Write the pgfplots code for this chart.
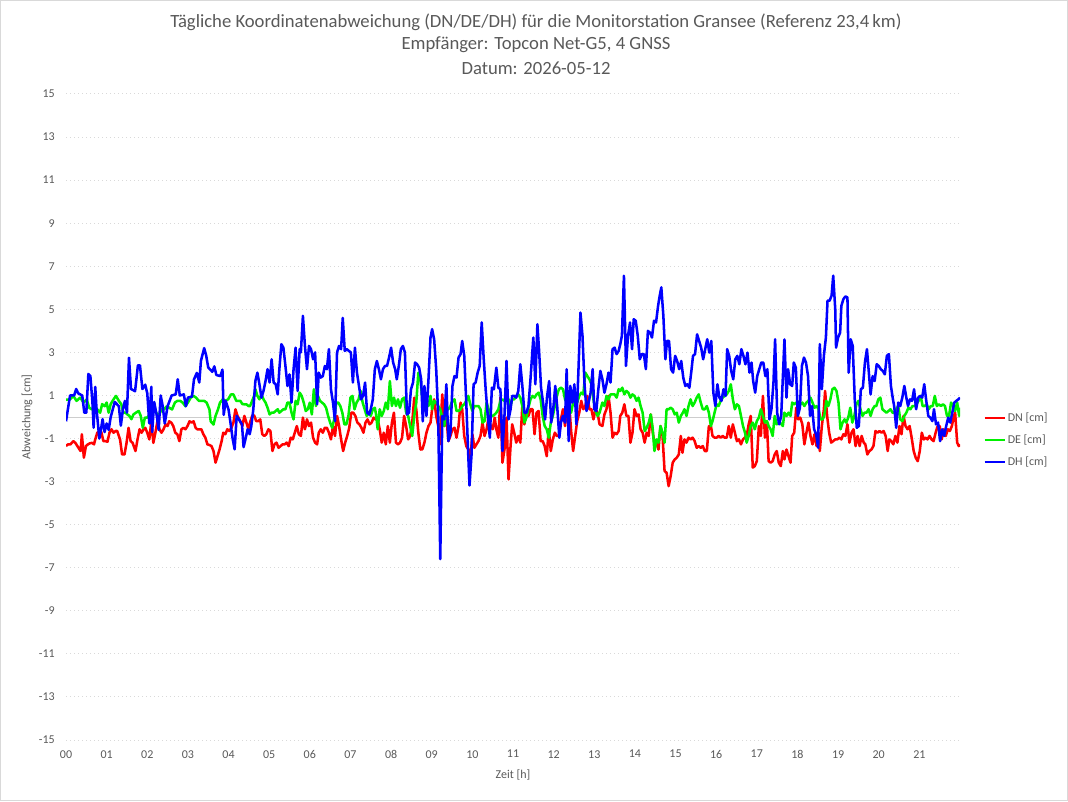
\documentclass[border=0pt]{standalone}
\usepackage{pgfplots}
\pgfplotsset{compat=1.18}
\usepackage{fontspec}
\setmainfont{Carlito}
\definecolor{txt}{RGB}{89,89,89}
\definecolor{gridc}{RGB}{217,217,217}
\definecolor{zeroc}{RGB}{205,205,205}
\definecolor{dnc}{RGB}{255,0,0}
\definecolor{dec}{RGB}{0,240,0}
\definecolor{dhc}{RGB}{0,0,255}
\begin{document}
\begin{tikzpicture}
\useasboundingbox (0,0) rectangle (801pt,600.75pt);
\draw[gridc, line width=0.75pt] (0.375pt,0.375pt) rectangle (800.625pt,600.375pt);
\node[font=\fontsize{14}{17}\selectfont, text=txt] at (402pt,584.25pt) {Tägliche Koordinatenabweichung (DN/DE/DH) für die Monitorstation Gransee (Referenz 23,4\,km)};
\node[font=\fontsize{14}{17}\selectfont, text=txt] at (402pt,567pt) {Empfänger: Topcon Net-G5, 4 GNSS};
\node[font=\fontsize{14}{17}\selectfont, text=txt] at (402pt,549.75pt) {Datum: 2026-05-12};
\begin{axis}[
  at={(49.5pt,45.75pt)}, anchor=south west,
  width=670.5pt, height=484.5pt, scale only axis,
  xmin=0, xmax=22, ymin=-15, ymax=15,
  xtick={0,1,...,21},
  xticklabels={00,01,02,03,04,05,06,07,08,09,10,11,12,13,14,15,16,17,18,19,20,21},
  ytick={-15,-13,...,15},
  ymajorgrids,
  grid style={gridc, line width=0.75pt, dash pattern=on 0.75pt off 2.25pt},
  extra y ticks={0}, extra y tick labels={},
  extra y tick style={grid=major, major grid style={zeroc, solid, line width=0.75pt}},
  axis line style={draw=none}, major tick length=0pt,
  tick label style={font=\fontsize{9}{11}\selectfont, text=txt},
  /pgf/number format/assume math mode=true,
  yticklabel style={inner sep=0pt, xshift=-8.25pt},
  xticklabel style={inner sep=0pt, yshift=-7.5pt},
  xlabel={Zeit [h]}, ylabel={Abweichung [cm]},
  label style={font=\fontsize{9}{11}\selectfont, text=txt},
  xlabel style={at={(axis description cs:0.5,-0.0542)}, anchor=center},
  ylabel style={at={(axis description cs:-0.0436,0.5)}, anchor=center},
  legend style={at={(axis description cs:1.026,0.464)}, anchor=west, draw=none, fill=none,
    font=\fontsize{9}{11}\selectfont, text=txt, row sep=5.5pt, inner sep=0pt, nodes={inner sep=1.5pt, xshift=1.5pt}},
  legend cell align=left,
  legend image code/.code={\draw[#1, line width=1.7pt] (0pt,0pt) -- (15pt,0pt);},
  every axis plot/.append style={line width=1.9pt, line join=round, no marks},
]
\addplot[dnc] coordinates {
(0,-1.35)(0.05,-1.27)(0.11,-1.27)(0.18,-1.12)(0.23,-1.2)(0.28,-1.35)(0.33,-1.5)(0.36,-1.58)(0.39,-0.8)(0.44,-1.89)(0.49,-1.35)(0.54,-1.27)(0.59,-1.22)(0.64,-1.2)(0.69,-1.27)(0.72,-1.04)(0.77,-0.73)(0.82,-0.65)(0.87,-0.7)(0.92,-1.12)(0.97,-1.12)(1.02,-1.15)(1.07,-0.73)(1.12,-0.57)(1.17,-0.73)(1.22,-0.65)(1.26,-0.65)(1.33,-1.04)(1.38,-1.74)(1.44,-1.74)(1.49,-1.2)(1.54,-0.5)(1.59,-1.12)(1.64,-1.2)(1.71,-1.58)(1.76,-1.04)(1.81,-0.57)(1.86,-0.73)(1.91,-0.57)(1.95,-0.5)(2.0,-0.73)(2.05,-1.04)(2.1,-0.2)(2.15,-1.2)(2.2,-0.73)(2.25,-0.2)(2.3,-0.57)(2.35,-0.73)(2.4,-0.57)(2.45,-0.34)(2.5,-0.42)(2.54,-0.2)(2.59,-0.26)(2.64,-0.42)(2.69,-0.73)(2.74,-0.8)(2.79,-1.12)(2.84,-0.57)(2.89,-0.5)(2.94,-0.57)(2.99,-0.42)(3.04,-0.2)(3.09,-0.26)(3.14,-0.2)(3.19,-0.5)(3.23,-0.57)(3.28,-0.57)(3.33,-0.57)(3.38,-0.8)(3.43,-0.96)(3.48,-1.27)(3.53,-1.3)(3.58,-1.35)(3.63,-1.58)(3.68,-2.12)(3.73,-1.81)(3.78,-1.5)(3.83,-1.12)(3.87,-0.73)(3.92,-0.8)(3.97,-0.57)(4.02,-0.65)(4.07,-0.5)(4.12,-0.26)(4.17,0.36)(4.22,0.05)(4.27,-0.12)
(4.34,-0.42)(4.39,0.05)(4.44,-0.26)(4.49,-0.57)(4.53,-0.26)(4.58,0.05)(4.63,0.08)(4.68,-0.19)(4.73,-0.19)(4.78,-0.11)(4.83,-0.8)(4.88,-0.88)(4.93,-0.8)(4.98,-0.57)(5.03,-0.65)(5.08,-1.58)(5.13,-1.27)(5.18,-1.19)(5.23,-1.43)(5.28,-1.35)(5.33,-1.27)(5.38,-1.27)(5.43,-1.19)(5.48,-1.35)(5.53,-0.96)(5.58,-1.04)(5.63,-0.73)(5.68,-0.42)(5.73,-0.8)(5.78,-0.88)(5.83,-0.03)(5.88,-0.57)(5.93,-0.11)(5.98,-0.42)(6.03,-0.26)(6.08,-0.96)(6.13,-1.19)(6.18,-1.27)(6.22,-0.73)(6.27,-0.57)(6.32,-0.73)(6.37,-0.5)(6.42,-0.5)(6.47,-0.73)(6.52,-1.04)(6.57,-0.42)(6.62,-0.88)(6.67,0.05)(6.72,-0.42)(6.77,-1.04)(6.82,-1.58)(6.87,-1.19)(6.92,-0.88)(6.97,-0.5)(7.02,0.2)(7.07,0.2)(7.12,0.05)(7.17,-0.26)(7.22,-0.34)(7.27,-0.5)(7.32,-0.73)(7.37,-0.26)(7.42,-0.11)(7.47,-0.34)(7.52,-0.26)(7.57,-0.03)(7.62,-0.11)(7.67,-0.11)(7.72,-0.57)(7.77,-1.19)(7.82,-0.73)(7.87,-1.27)(7.92,-0.42)(7.97,-1.19)(8.02,-0.26)(8.07,0.2)(8.12,-1.19)(8.17,-1.27)(8.22,-1.19)(8.27,-0.96)(8.32,0.05)(8.37,-0.42)(8.42,-1.04)(8.47,-0.88)(8.52,-0.26)(8.57,0.9)(8.62,0.36)(8.67,-0.73)(8.72,-1.51)
(8.77,-1.5)(8.82,-1.19)(8.87,-0.73)(8.92,-0.42)(8.97,-0.26)(9.01,0.36)(9.06,0.82)(9.11,0.05)(9.16,-0.42)(9.2,-1.27)(9.23,0.05)(9.26,1.05)(9.31,-0.42)(9.36,0.05)(9.41,-1.12)(9.46,-0.88)(9.51,-0.57)(9.56,-0.5)(9.61,-0.96)(9.66,-0.42)(9.71,0.67)(9.75,0.36)(9.8,-0.88)(9.85,-1.35)(9.9,-1.51)(9.95,-1.97)(10.0,-0.8)(10.05,-1.43)(10.1,-1.27)(10.15,-1.12)(10.2,-0.88)(10.25,-0.26)(10.3,-0.88)(10.35,-0.57)(10.4,-0.03)(10.45,-0.42)(10.5,-0.57)(10.55,-0.03)(10.59,-0.57)(10.64,-0.96)(10.69,0.9)(10.74,-2.12)(10.79,-1.51)(10.84,-0.03)(10.89,-2.9)(10.94,-1.35)(10.98,-0.34)(11.03,-0.73)(11.08,-1.19)(11.13,-0.88)(11.18,-1.19)(11.23,0.51)(11.28,-0.34)(11.33,0.2)(11.38,0.05)(11.43,0.36)(11.48,0.36)(11.53,-0.8)(11.58,0.2)(11.63,0.28)(11.68,-1.12)(11.73,-1.12)(11.78,-1.35)(11.83,-1.82)(11.88,-0.57)(11.93,-1.58)(11.98,-1.04)(12.03,-0.73)(12.08,-0.88)(12.13,-0.88)(12.18,-0.11)(12.23,0.36)(12.28,-0.42)(12.33,0.51)(12.38,0.67)(12.43,-0.65)(12.48,-1.58)(12.53,-0.88)(12.58,-0.19)(12.63,0.2)(12.68,0.75)(12.73,0.36)(12.78,0.51)(12.83,0.98)(12.88,0.36)(12.93,0.36)(12.98,-0.11)(13.03,0.36)(13.08,0.2)(13.13,-0.34)
(13.2,-0.42)(13.25,0.12)(13.3,0.36)(13.35,0.98)(13.4,0.2)(13.45,-0.96)(13.5,-0.73)(13.55,-0.8)(13.6,-0.65)(13.64,0.05)(13.69,0.2)(13.74,0.59)(13.79,0.05)(13.84,0.05)(13.89,-1.19)(13.94,-0.73)(13.99,0.36)(14.04,0.05)(14.09,0.12)(14.14,-0.57)(14.19,-0.73)(14.24,-1.19)(14.29,-0.73)(14.34,-0.88)(14.39,0.12)(14.44,-0.73)(14.48,-1.19)(14.53,-1.19)(14.58,-1.51)(14.63,-0.42)(14.68,-0.88)(14.73,-2.51)(14.78,-2.59)(14.83,-3.21)(14.88,-2.74)(14.93,-2.12)(14.98,-1.97)(15.03,-1.89)(15.08,-1.74)(15.13,-0.88)(15.17,-1.66)(15.22,-1.04)(15.27,-1.19)(15.32,-0.96)(15.37,-1.04)(15.42,-0.96)(15.47,-1.12)(15.52,-1.43)(15.57,-1.35)(15.62,-1.43)(15.67,-1.35)(15.72,-1.58)(15.77,-1.58)(15.82,-0.42)(15.87,-0.42)(15.91,-0.88)(15.96,-0.96)(16.01,-0.96)(16.06,-0.88)(16.11,-0.96)(16.16,-0.88)(16.21,-0.96)(16.26,-0.96)(16.31,-0.42)(16.36,-0.96)(16.41,-0.34)(16.46,-0.73)(16.51,-1.12)(16.56,-1.04)(16.61,-1.27)(16.66,-1.04)(16.7,-0.96)(16.75,-0.88)(16.8,-0.34)(16.85,0.05)(16.9,-2.35)(16.95,-2.28)(17.0,-2.05)(17.05,-0.42)(17.1,-0.88)(17.15,0.98)(17.2,-0.96)(17.25,-0.34)(17.29,-2.05)(17.34,-2.12)(17.39,-2.05)(17.44,-1.74)(17.49,-1.58)(17.54,-2.12)
(17.59,-2.28)(17.64,-1.58)(17.68,-1.97)(17.73,-1.51)(17.78,-1.82)(17.83,-2.12)(17.87,-0.88)(17.92,-0.73)(17.97,0.43)(18.02,-0.11)(18.07,-0.03)(18.12,-0.34)(18.17,-1.27)(18.22,-0.73)(18.27,-0.26)(18.32,-0.88)(18.37,-1.27)(18.42,-0.8)(18.47,-1.35)(18.52,-0.73)(18.55,-1.58)(18.6,-0.42)(18.65,0.36)(18.68,1.21)(18.73,0.05)(18.78,-0.73)(18.83,-1.19)(18.88,-1.12)(18.93,-1.04)(18.98,-1.04)(19.03,-0.96)(19.08,-1.04)(19.13,-0.8)(19.18,-0.88)(19.23,-0.34)(19.28,-1.19)(19.33,-0.73)(19.38,-0.57)(19.43,-1.35)(19.48,-0.88)(19.53,-1.35)(19.58,-0.88)(19.63,-1.19)(19.67,-1.27)(19.72,-1.74)(19.77,-1.58)(19.82,-1.51)(19.87,-1.35)(19.92,-0.65)(19.97,-0.73)(20.02,-0.65)(20.07,-0.73)(20.12,-0.65)(20.17,-0.88)(20.22,-1.58)(20.26,-1.04)(20.31,-1.12)(20.36,-1.27)(20.41,-0.88)(20.46,-1.19)(20.51,-0.42)(20.56,-0.8)(20.61,0.05)(20.66,-0.42)(20.71,-0.57)(20.76,-0.42)(20.81,-0.96)(20.86,-1.58)(20.91,-1.89)(20.96,-2.05)(21.01,-1.58)(21.06,-0.73)(21.11,-1.04)(21.16,-0.96)(21.2,-1.04)(21.25,-0.88)(21.3,-1.04)(21.35,-1.12)(21.4,-0.73)(21.45,-0.42)(21.5,-0.42)(21.55,-1.04)(21.6,-0.57)(21.65,-0.88)(21.7,-0.57)(21.75,-0.65)(21.8,-0.42)(21.85,0.05)(21.88,0.2)(21.93,-1.19)(21.97,-1.35)(22.0,-1.27)
};
\addlegendentry{DN [cm]}
\addplot[dec] coordinates {
(0,0.8)(0.1,0.82)(0.18,0.98)(0.26,0.75)(0.35,0.9)(0.43,0.67)(0.51,0.82)(0.57,0.43)(0.64,0.35)(0.71,0.5)(0.77,0.35)(0.84,0.2)(0.89,0.6)(0.95,0.5)(1.0,0.67)(1.05,0.2)(1.1,0.6)(1.17,0.82)(1.23,0.98)(1.3,0.75)(1.36,0.6)(1.41,0.2)(1.46,0.2)(1.51,0.12)(1.56,0.05)(1.61,-0.1)(1.66,0.12)(1.72,0.2)(1.79,0.28)(1.84,0.05)(1.89,-0.5)(1.94,-0.03)(1.99,-0.03)(2.04,0.05)(2.09,0.2)(2.15,0.35)(2.22,0.2)(2.28,0.05)(2.35,0.35)(2.41,0.35)(2.48,0.5)(2.54,0.43)(2.61,0.35)(2.68,0.67)(2.74,0.75)(2.81,0.75)(2.87,0.67)(2.94,0.5)(3.0,0.67)(3.07,0.9)(3.14,0.98)(3.2,0.9)(3.27,0.75)(3.33,0.75)(3.4,0.75)(3.46,0.67)(3.53,0.35)(3.56,-0.2)(3.63,-0.35)(3.68,0.05)(3.74,0.35)(3.79,0.67)(3.86,0.82)(3.92,0.75)(3.99,0.82)(4.06,1.05)(4.12,1.05)(4.19,0.75)(4.25,0.75)
(4.29,0.75)(4.34,0.6)(4.39,0.59)(4.44,0.59)(4.49,0.51)(4.53,0.51)(4.58,0.75)(4.63,0.98)(4.66,1.29)(4.71,0.98)(4.76,0.82)(4.81,1.05)(4.86,0.82)(4.91,0.67)(4.96,0.43)(5.01,0.12)(5.06,0.2)(5.11,0.2)(5.16,0.28)(5.21,0.36)(5.25,0.2)(5.3,0.28)(5.35,0.36)(5.4,0.36)(5.45,0.67)(5.5,0.67)(5.55,0.2)(5.6,-0.11)(5.65,0.75)(5.7,0.59)(5.75,1.13)(5.8,0.98)(5.85,0.67)(5.9,0.28)(5.95,0.36)(6.0,0.67)(6.05,0.12)(6.1,1.29)(6.15,0.51)(6.2,0.98)(6.25,0.75)(6.3,0.67)(6.35,0.59)(6.4,0.43)(6.45,0.05)(6.5,-0.26)(6.55,-0.5)(6.6,-0.11)(6.65,0.67)(6.7,0.67)(6.75,0.51)(6.8,0.2)(6.85,-0.34)(6.9,-0.34)(6.95,0.05)(7.0,0.9)(7.05,0.98)(7.1,0.36)(7.15,0.67)(7.2,0.82)(7.25,1.21)(7.3,0.67)(7.35,0.36)(7.4,0.05)(7.45,0.2)(7.5,0.05)(7.55,0.36)(7.6,0.43)(7.63,0.12)(7.67,-0.57)(7.72,0.36)(7.77,0.05)(7.82,0.28)(7.87,0.67)(7.92,0.36)(7.97,1.67)(8.02,0.51)(8.07,0.9)(8.12,0.51)(8.17,0.82)(8.22,0.43)(8.27,0.82)(8.32,0.9)(8.37,0.2)(8.42,0.05)(8.47,-0.42)(8.52,-0.88)(8.57,0.05)(8.62,0.67)(8.67,2.06)(8.72,1.75)
(8.77,0.82)(8.82,0.36)(8.87,0.67)(8.92,0.51)(8.97,0.98)(9.01,0.36)(9.06,0.75)(9.11,0.67)(9.16,0.51)(9.21,0.36)(9.26,-0.03)(9.31,-0.42)(9.36,0.36)(9.41,0.36)(9.46,0.51)(9.51,0.75)(9.56,0.82)(9.61,0.28)(9.66,0.28)(9.71,0.36)(9.75,0.51)(9.8,0.59)(9.85,0.75)(9.9,0.98)(9.95,0.59)(10.0,0.28)(10.05,0.51)(10.1,0.51)(10.15,0.51)(10.2,0.36)(10.25,-0.26)(10.3,-0.19)(10.35,0.67)(10.4,0.36)(10.45,0.05)(10.5,0.05)(10.55,0.12)(10.59,0.2)(10.64,0.36)(10.69,0.75)(10.74,0.82)(10.79,0.75)(10.84,0.75)(10.89,0.82)(10.94,0.51)(10.98,0.82)(11.03,0.82)(11.08,0.98)(11.13,1.05)(11.18,0.9)(11.23,0.51)(11.28,-0.26)(11.33,-0.03)(11.38,0.43)(11.43,0.82)(11.48,0.98)(11.53,0.9)(11.58,1.05)(11.63,1.13)(11.68,0.82)(11.73,0.05)(11.78,-0.42)(11.83,-0.57)(11.88,-0.96)(11.93,-0.26)(11.98,0.05)(12.03,0.51)(12.08,0.98)(12.13,1.29)(12.18,1.36)(12.23,1.29)(12.28,0.82)(12.33,0.67)(12.38,0.51)(12.43,0.2)(12.48,0.67)(12.53,0.82)(12.58,0.67)(12.63,0.98)(12.68,1.13)(12.73,1.05)(12.78,2.06)(12.83,1.9)(12.88,1.75)(12.93,1.52)(12.98,0.82)(13.03,0.28)(13.08,0.05)(13.13,0.2)
(13.2,0.67)(13.25,0.51)(13.3,0.98)(13.35,0.82)(13.4,1.05)(13.45,1.05)(13.5,1.05)(13.55,0.9)(13.6,1.29)(13.64,1.21)(13.69,1.36)(13.74,1.05)(13.79,1.21)(13.84,1.13)(13.89,0.9)(13.94,1.05)(13.99,0.98)(14.04,0.75)(14.09,0.9)(14.14,0.51)(14.19,0.2)(14.24,-0.65)(14.29,-0.5)(14.34,-0.26)(14.39,0.12)(14.44,-0.57)(14.48,-1.58)(14.53,-1.04)(14.58,-1.19)(14.63,-0.42)(14.68,-0.73)(14.73,-1.19)(14.78,0.36)(14.83,0.36)(14.88,0.43)(14.93,0.36)(14.98,0.12)(15.03,0.2)(15.08,-0.26)(15.13,0.05)(15.18,0.2)(15.22,0.36)(15.27,0.05)(15.32,0.51)(15.37,0.82)(15.42,0.51)(15.47,0.67)(15.52,0.9)(15.57,1.05)(15.62,0.67)(15.67,0.36)(15.72,0.36)(15.77,0.51)(15.82,0.2)(15.87,-0.42)(15.91,-0.19)(15.96,0.2)(16.01,0.59)(16.06,0.51)(16.11,0.75)(16.16,0.9)(16.21,0.98)(16.26,1.05)(16.31,1.21)(16.36,1.52)(16.41,0.82)(16.46,0.36)(16.51,0.59)(16.56,0.51)(16.61,0.05)(16.66,-0.42)(16.71,-0.73)(16.75,-1.19)(16.8,-0.88)(16.85,-0.42)(16.9,-0.26)(16.95,-0.57)(17.0,-0.19)(17.05,-0.03)(17.1,0.36)(17.15,0.05)(17.2,-0.26)(17.25,-0.19)(17.29,-0.42)(17.34,-0.57)(17.39,-0.88)(17.44,0.05)(17.49,-0.34)(17.54,-0.26)
(17.59,-0.3)(17.64,-0.42)(17.68,0.2)(17.73,0.05)(17.78,0.2)(17.83,0.05)(17.87,0.67)(17.92,0.59)(17.97,0.67)(18.02,0.51)(18.07,0.59)(18.12,0.67)(18.17,0.51)(18.22,0.67)(18.27,0.75)(18.32,0.9)(18.37,0.67)(18.42,0.43)(18.47,0.51)(18.52,0.36)(18.57,-0.11)(18.62,-0.11)(18.66,0.05)(18.71,0.75)(18.76,0.51)(18.81,0.82)(18.86,1.29)(18.91,1.36)(18.96,1.21)(19.01,0.67)(19.06,-0.57)(19.11,-0.26)(19.16,-0.11)(19.2,-0.26)(19.25,-0.03)(19.3,0.43)(19.35,-0.26)(19.4,0.05)(19.45,0.59)(19.5,0.75)(19.55,0.36)(19.6,0.05)(19.65,0.2)(19.7,0.2)(19.75,0.36)(19.8,0.05)(19.85,0.36)(19.9,0.51)(19.94,0.51)(19.99,0.82)(20.04,0.9)(20.09,0.36)(20.14,0.28)(20.19,0.2)(20.24,0.28)(20.29,0.36)(20.34,0.2)(20.38,0.2)(20.43,0.36)(20.48,0.51)(20.53,-0.11)(20.58,-0.19)(20.63,0.05)(20.68,0.2)(20.73,0.43)(20.78,0.36)(20.83,0.51)(20.88,0.51)(20.93,0.59)(20.98,0.75)(21.03,0.98)(21.08,0.51)(21.13,0.51)(21.18,0.59)(21.23,0.36)(21.28,0.51)(21.33,0.51)(21.38,0.98)(21.43,0.51)(21.48,0.59)(21.53,0.51)(21.58,0.59)(21.63,0.51)(21.68,0.05)(21.73,0.05)(21.78,0.67)(21.83,0.51)(21.88,0.28)(21.93,0.67)(21.98,0.05)(22.0,0.43)
};
\addlegendentry{DE [cm]}
\addplot[dhc] coordinates {
(0,-0.2)(0.1,1.0)(0.2,1.0)(0.25,1.3)(0.3,1.1)(0.4,1.0)(0.45,0.2)(0.5,0.2)(0.55,2.0)(0.6,1.9)(0.65,0.7)(0.68,-0.5)(0.72,1.4)(0.75,0.4)(0.82,-1.0)(0.85,-0.7)(0.9,-0.1)(0.95,-0.7)(1.0,-0.3)(1.05,-0.6)(1.1,0.0)(1.2,0.7)(1.3,0.5)(1.35,-0.4)(1.4,0.35)(1.45,0.75)(1.5,0.2)(1.55,2.75)(1.6,1.3)(1.7,1.2)(1.77,2.4)(1.82,2.4)(1.88,1.3)(1.95,1.5)(2.0,1.1)(2.05,-0.3)(2.1,1.4)(2.12,-0.7)(2.17,0.7)(2.23,0.1)(2.28,-0.6)(2.33,1.0)(2.38,0.5)(2.43,-0.3)(2.5,0.5)(2.6,1.0)(2.7,1.05)(2.75,1.75)(2.8,1.0)(2.9,1.05)(2.95,0.5)(3.0,0.9)(3.1,0.95)(3.15,1.75)(3.22,2.05)(3.28,1.6)(3.32,2.6)(3.4,3.2)(3.45,2.85)(3.5,2.3)(3.6,2.1)(3.65,2.35)(3.7,1.95)(3.8,1.9)(3.85,2.2)(3.88,0.1)(3.93,0.75)(4.0,0.35)(4.05,-0.3)(4.1,-1.0)(4.15,-1.5)(4.2,0.05)(4.25,-0.1)
(4.33,-0.34)(4.37,-1.4)(4.42,-1.0)(4.47,-0.57)(4.52,-0.8)(4.56,-0.42)(4.61,0.36)(4.66,1.67)(4.71,2.06)(4.76,1.52)(4.81,0.9)(4.86,1.21)(4.91,1.67)(4.96,2.22)(5.01,1.6)(5.06,2.68)(5.11,1.6)(5.16,1.52)(5.21,1.05)(5.25,2.22)(5.3,3.38)(5.35,3.22)(5.4,2.37)(5.45,1.44)(5.5,1.98)(5.55,0.67)(5.6,2.22)(5.65,3.22)(5.7,1.21)(5.75,3.15)(5.78,3.0)(5.83,4.7)(5.88,3.3)(5.93,2.22)(5.98,3.3)(6.03,3.15)(6.08,2.68)(6.13,3.0)(6.18,0.59)(6.22,2.06)(6.27,1.83)(6.32,1.9)(6.37,2.37)(6.42,2.22)(6.47,3.15)(6.52,1.29)(6.57,0.67)(6.62,-0.19)(6.67,3.0)(6.72,3.3)(6.77,3.15)(6.81,4.6)(6.86,3.07)(6.91,3.15)(6.96,3.07)(7.01,3.0)(7.06,1.6)(7.11,3.22)(7.16,2.06)(7.21,1.44)(7.26,0.82)(7.31,0.98)(7.36,1.6)(7.41,0.2)(7.46,0.12)(7.5,0.36)(7.55,0.82)(7.6,2.22)(7.65,2.6)(7.7,2.22)(7.75,1.75)(7.8,2.22)(7.85,2.37)(7.9,2.37)(7.95,2.76)(8.0,3.22)(8.05,2.53)(8.1,2.22)(8.14,1.75)(8.19,2.37)(8.24,3.15)(8.29,3.3)(8.34,3.0)(8.39,0.12)(8.44,0.2)(8.49,1.29)(8.54,1.6)(8.59,2.53)(8.64,2.45)(8.69,2.29)(8.74,1.75)
(8.78,-0.2)(8.82,1.44)(8.87,0.05)(8.92,1.75)(8.97,3.69)(9.01,4.08)(9.06,3.6)(9.11,2.22)(9.16,0.05)(9.21,-6.6)(9.26,0.05)(9.31,-0.11)(9.36,1.52)(9.41,-1.12)(9.46,-0.73)(9.51,1.44)(9.56,1.9)(9.61,1.83)(9.66,2.76)(9.71,2.92)(9.75,3.53)(9.8,2.84)(9.85,0.67)(9.9,-1.82)(9.93,-3.18)(9.98,-1.74)(10.03,1.52)(10.08,1.6)(10.13,2.06)(10.18,2.37)(10.23,4.39)(10.28,2.68)(10.33,1.21)(10.38,0.05)(10.43,-0.96)(10.48,1.36)(10.53,1.29)(10.59,2.29)(10.64,1.36)(10.69,1.29)(10.74,-1.58)(10.79,0.05)(10.84,2.6)(10.89,-0.11)(10.94,0.36)(10.98,0.98)(11.03,0.98)(11.08,0.9)(11.13,1.21)(11.18,2.45)(11.23,1.44)(11.28,0.2)(11.33,0.2)(11.38,0.51)(11.43,1.75)(11.5,3.69)(11.55,1.52)(11.6,4.31)(11.64,3.15)(11.69,1.36)(11.74,0.67)(11.79,-0.11)(11.84,0.98)(11.89,1.67)(11.94,-0.26)(11.99,0.36)(12.04,1.44)(12.09,0.43)(12.14,-0.96)(12.18,-0.26)(12.23,0.05)(12.28,-0.26)(12.32,2.22)(12.37,-1.12)(12.41,1.44)(12.46,0.67)(12.51,1.52)(12.56,-0.34)(12.61,2.14)(12.66,4.85)(12.71,3.77)(12.76,1.52)(12.81,0.28)(12.86,0.67)(12.91,1.13)(12.96,2.22)(13.0,0.36)(13.05,0.28)(13.1,1.29)
(13.15,2.14)(13.2,1.75)(13.25,1.13)(13.3,1.52)(13.35,2.06)(13.4,1.6)(13.45,3.15)(13.5,3.22)(13.55,2.92)(13.6,3.07)(13.64,3.38)(13.68,3.77)(13.73,6.56)(13.78,2.37)(13.83,3.77)(13.88,4.39)(13.93,3.15)(13.97,4.54)(14.02,4.47)(14.07,3.77)(14.12,2.68)(14.17,2.92)(14.22,2.92)(14.27,2.22)(14.32,4.0)(14.37,3.92)(14.42,3.69)(14.47,4.47)(14.52,4.39)(14.57,5.16)(14.61,5.63)(14.65,6.02)(14.7,4.7)(14.75,2.68)(14.79,3.53)(14.84,3.53)(14.89,2.22)(14.94,2.06)(14.99,2.84)(15.04,2.6)(15.09,2.22)(15.14,2.6)(15.19,1.83)(15.24,1.44)(15.29,1.52)(15.34,1.36)(15.39,2.14)(15.43,2.84)(15.48,2.92)(15.53,3.84)(15.58,3.53)(15.63,3.22)(15.68,2.68)(15.73,3.15)(15.78,3.61)(15.83,2.99)(15.88,3.53)(15.93,1.13)(15.98,0.51)(16.03,1.52)(16.08,0.9)(16.13,0.75)(16.18,1.29)(16.23,0.98)(16.27,3.15)(16.32,2.84)(16.37,2.14)(16.42,1.75)(16.47,2.68)(16.52,2.84)(16.57,2.45)(16.62,3.15)(16.67,2.84)(16.72,2.45)(16.77,2.99)(16.82,2.06)(16.87,2.53)(16.91,1.67)(16.96,1.13)(17.01,1.9)(17.06,2.22)(17.11,2.53)(17.16,2.53)(17.21,1.9)(17.26,2.22)(17.31,-0.11)(17.36,0.36)(17.41,1.6)(17.45,3.61)(17.5,0.2)(17.55,-0.34)
(17.6,0.05)(17.68,3.6)(17.73,0.9)(17.77,2.22)(17.82,1.52)(17.87,1.44)(17.91,2.53)(17.96,2.29)(18.01,0.05)(18.06,0.43)(18.11,2.37)(18.16,2.76)(18.21,2.53)(18.26,1.9)(18.31,0.05)(18.36,0.51)(18.41,-0.57)(18.46,-0.8)(18.51,-1.43)(18.55,3.38)(18.6,1.29)(18.65,2.84)(18.7,3.69)(18.74,5.4)(18.79,5.4)(18.84,5.64)(18.88,6.56)(18.93,5.0)(18.95,3.22)(19.0,3.69)(19.05,3.92)(19.08,5.16)(19.13,5.47)(19.18,5.6)(19.23,5.55)(19.26,2.06)(19.31,3.61)(19.36,3.3)(19.41,0.82)(19.46,-0.5)(19.51,-0.42)(19.56,1.29)(19.61,1.36)(19.66,2.53)(19.71,3.15)(19.75,2.22)(19.8,1.05)(19.85,1.9)(19.9,1.67)(19.95,2.45)(20.0,2.37)(20.05,2.22)(20.1,2.14)(20.15,1.98)(20.2,2.84)(20.25,2.92)(20.3,1.44)(20.35,0.82)(20.38,0.51)(20.43,-0.5)(20.48,0.67)(20.53,0.51)(20.58,0.9)(20.63,1.44)(20.68,0.9)(20.72,0.51)(20.77,0.82)(20.82,0.75)(20.87,1.29)(20.92,0.36)(20.97,0.9)(21.02,0.98)(21.07,0.9)(21.12,1.52)(21.17,0.75)(21.22,0.05)(21.27,-0.03)(21.32,-0.19)(21.36,0.36)(21.41,-0.34)(21.46,-0.26)(21.51,-1.12)(21.56,-0.57)(21.61,-0.88)(21.66,-0.42)(21.71,-0.03)(21.76,-0.26)(21.81,0.2)(21.86,0.67)(21.91,0.75)(21.96,0.82)(22.0,0.9)
};
\addlegendentry{DH [cm]}
\end{axis}
\end{tikzpicture}
\end{document}
